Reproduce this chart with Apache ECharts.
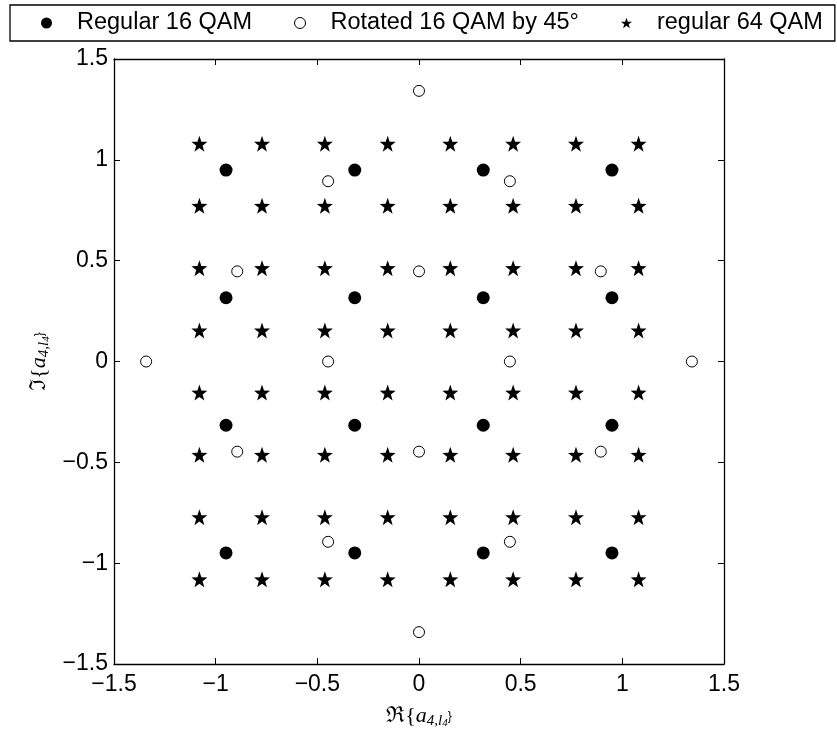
<!DOCTYPE html>
<html>
<head>
<meta charset="utf-8">
<script src="https://cdn.jsdelivr.net/npm/echarts@6/dist/echarts.min.js"></script>
<style>html,body{margin:0;padding:0;background:#fff}#c{width:837px;height:734px}</style>
</head>
<body>
<div id="c"></div>
<script>
// ---- data ----
const seriesNames = ['Regular 16 QAM', 'Rotated 16 QAM by 45°', 'regular 64 QAM'];
const qam16Levels = [-0.949, -0.316, 0.316, 0.949];
const qam16 = [];
qam16Levels.forEach(x => qam16Levels.forEach(y => qam16.push([x, y])));
const rotated16 = [
  [0, 1.342], [-0.447, 0.894], [0.447, 0.894],
  [-0.894, 0.447], [0, 0.447], [0.894, 0.447],
  [-1.342, 0], [-0.447, 0], [0.447, 0], [1.342, 0],
  [-0.894, -0.447], [0, -0.447], [0.894, -0.447],
  [-0.447, -0.894], [0.447, -0.894], [0, -1.342]
];
const qam64Levels = [-1.080, -0.772, -0.463, -0.154, 0.154, 0.463, 0.772, 1.080];
const qam64 = [];
qam64Levels.forEach(x => qam64Levels.forEach(y => qam64.push([x, y])));
const xTickLabels = ['\u22121.5', '\u22121', '\u22120.5', '0', '0.5', '1', '1.5'];
const yTickLabels = ['\u22121.5', '\u22121', '\u22120.5', '0', '0.5', '1', '1.5'];

// ---- star symbol (style) ----
function starPath() {
  const pts = [];
  for (let i = 0; i < 10; i++) {
    const r = i % 2 === 0 ? 50 : 20;
    const a = -Math.PI / 2 + i * Math.PI / 5;
    pts.push((50 + r * Math.cos(a)).toFixed(2) + ' ' + (50 + r * Math.sin(a)).toFixed(2));
  }
  return 'path://M' + pts.join(' L') + ' Z';
}
const STAR = starPath();

const font = 'Liberation Sans, Arial, sans-serif';
const serif = 'Liberation Serif, DejaVu Serif, serif';
const tickStyle = { show: true, inside: true, length: 6, lineStyle: { color: '#000', width: 1 } };
const lineStyle = { show: true, onZero: false, lineStyle: { color: '#000', width: 1.3 } };

const nameRich = {
  n: { fontFamily: serif, fontSize: 22, color: '#000' },
  a: { fontFamily: serif, fontSize: 22, fontStyle: 'italic', color: '#000' },
  s: { fontFamily: serif, fontSize: 15, fontStyle: 'italic', color: '#000', padding: [10, 0, 0, 0] },
  ss: { fontFamily: serif, fontSize: 11, fontStyle: 'italic', color: '#000', padding: [14, 0, 0, 0] }
};

const chart = echarts.init(document.getElementById('c'));
chart.setOption({
  animation: false,
  backgroundColor: '#fff',
  legend: {
    left: 10, top: 5, width: 1200,
    orient: 'horizontal',
    padding: [6, 12, 6, 31],
    itemGap: 42,
    itemWidth: 11, itemHeight: 11,
    borderColor: '#000', borderWidth: 1.3,
    textStyle: { fontFamily: font, fontSize: 23.5, lineHeight: 24, color: '#000', padding: [0, 0, 0, 20] },
    data: [
      { name: seriesNames[0], icon: 'circle', itemStyle: { color: '#000', opacity: 1 } },
      { name: seriesNames[1], icon: 'circle', itemStyle: { color: '#fff', borderColor: '#000', borderWidth: 1, opacity: 1 } },
      { name: seriesNames[2], icon: STAR, itemStyle: { color: '#000', opacity: 1 } }
    ]
  },
  grid: { left: 114, right: 113, top: 59, bottom: 65.5, containLabel: false },
  xAxis: [{
    type: 'value', min: -1.5, max: 1.5, interval: 0.5, position: 'bottom',
    axisLine: lineStyle, axisTick: tickStyle, splitLine: { show: false },
    axisLabel: { fontFamily: font, fontSize: 23, color: '#000', margin: 9,
      formatter: (v, i) => xTickLabels[i] },
    name: '{n|\u211C{}{a|a}{s|4,l}{ss|4}{n|\}}',
    nameLocation: 'middle', nameGap: 40,
    nameTextStyle: { rich: nameRich }
  }, {
    type: 'value', min: -1.5, max: 1.5, interval: 0.5, position: 'top',
    axisLine: lineStyle, axisTick: tickStyle, splitLine: { show: false },
    axisLabel: { show: false }
  }],
  yAxis: [{
    type: 'value', min: -1.5, max: 1.5, interval: 0.5, position: 'left',
    axisLine: lineStyle, axisTick: tickStyle, splitLine: { show: false },
    axisLabel: { fontFamily: font, fontSize: 23, color: '#000', margin: 6,
      formatter: (v, i) => yTickLabels[i] },
    name: '{n|\u2111{}{a|a}{s|4,l}{ss|4}{n|\}}',
    nameLocation: 'middle', nameGap: 62, nameRotate: 90,
    nameTextStyle: { rich: nameRich }
  }, {
    type: 'value', min: -1.5, max: 1.5, interval: 0.5, position: 'right',
    axisLine: lineStyle, axisTick: tickStyle, splitLine: { show: false },
    axisLabel: { show: false }
  }],
  series: [
    { name: seriesNames[0], type: 'scatter', data: qam16, symbol: 'circle', symbolSize: 13,
      itemStyle: { color: '#000', opacity: 1 }, z: 3 },
    { name: seriesNames[1], type: 'scatter', data: rotated16, symbol: 'circle', symbolSize: 11,
      itemStyle: { color: '#fff', borderColor: '#000', borderWidth: 1, opacity: 1 }, z: 3 },
    { name: seriesNames[2], type: 'scatter', data: qam64, symbol: STAR, symbolSize: 16,
      itemStyle: { color: '#000', opacity: 1 }, z: 2 }
  ]
});
</script>
</body>
</html>
